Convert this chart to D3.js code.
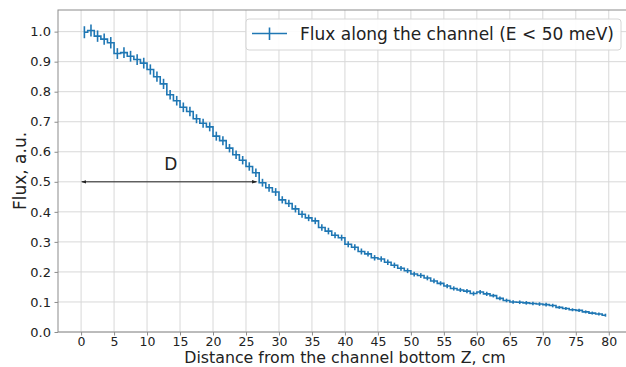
<!DOCTYPE html>
<html>
<head>
<meta charset="utf-8">
<script src="https://cdn.jsdelivr.net/npm/d3@7"></script>
<style>
  html, body { margin: 0; padding: 0; background: #fff; }
  svg { display: block; font-family: "DejaVu Sans", sans-serif; }
</style>
</head>
<body>
<svg id="chart" width="626" height="367"></svg>
<script>
// ---- data ----
const binCenters = d3.range(80).map(i => i + 0.5);
const flux = [
  0.998, 1.004, 0.985, 0.975, 0.963, 0.927, 0.930, 0.918, 0.907, 0.895,
  0.874, 0.850, 0.826, 0.790, 0.770, 0.748, 0.734, 0.710, 0.695, 0.683,
  0.652, 0.637, 0.612, 0.590, 0.572, 0.551, 0.530, 0.497, 0.480, 0.466,
  0.440, 0.428, 0.410, 0.392, 0.380, 0.370, 0.348, 0.336, 0.322, 0.314,
  0.292, 0.282, 0.268, 0.260, 0.247, 0.243, 0.232, 0.222, 0.212, 0.204,
  0.193, 0.188, 0.180, 0.170, 0.162, 0.153, 0.145, 0.140, 0.136, 0.128,
  0.133, 0.127, 0.121, 0.112, 0.105, 0.100, 0.099, 0.097, 0.095, 0.093,
  0.091, 0.088, 0.082, 0.078, 0.074, 0.072, 0.067, 0.063, 0.060, 0.056
];
const fluxErr = [
  0.020, 0.020, 0.019, 0.019, 0.019, 0.018, 0.018, 0.018, 0.018, 0.018,
  0.017, 0.017, 0.017, 0.016, 0.016, 0.016, 0.016, 0.015, 0.015, 0.015,
  0.015, 0.015, 0.014, 0.014, 0.014, 0.014, 0.014, 0.013, 0.013, 0.013,
  0.012, 0.012, 0.012, 0.012, 0.011, 0.011, 0.011, 0.011, 0.010, 0.010,
  0.010, 0.010, 0.010, 0.009, 0.009, 0.009, 0.009, 0.009, 0.008, 0.008,
  0.008, 0.008, 0.008, 0.008, 0.007, 0.007, 0.007, 0.007, 0.007, 0.007,
  0.007, 0.007, 0.006, 0.006, 0.006, 0.006, 0.006, 0.006, 0.006, 0.006,
  0.006, 0.006, 0.005, 0.005, 0.005, 0.005, 0.005, 0.005, 0.005, 0.005
];
const xTicks = [0, 5, 10, 15, 20, 25, 30, 35, 40, 45, 50, 55, 60, 65, 70, 75, 80];
const yTicks = [0.0, 0.1, 0.2, 0.3, 0.4, 0.5, 0.6, 0.7, 0.8, 0.9, 1.0];
const arrowStart = [26.6, 0.5];
const arrowEnd = [0.1, 0.5];
const arrowLabel = { text: "D", x: 13.6, y: 0.538 };
const legendLabel = "Flux along the channel (E < 50 meV)";
const xLabel = "Distance from the channel bottom Z, cm";
const yLabel = "Flux, a.u.";

// ---- layout ----
const plotLeft = 58, plotTop = 10, plotBottom = 332;
const pxPerUnit = 6.596;
const x = d3.scaleLinear().domain([-3.5, 84]).range([plotLeft, plotLeft + 87.5 * pxPerUnit]);
const y = d3.scaleLinear().domain([0, 1.072]).range([plotBottom, plotTop]);
const plotRight = x(84);
const blue = "#1f77b4";
const spineColor = "#8c8c8c";

const svg = d3.select("#chart");
const data = binCenters.map((c, i) => ({ x: c, y: flux[i], e: fluxErr[i] }));

// grid
const grid = svg.append("g");
grid.selectAll("line.gx").data(xTicks).join("line")
  .attr("x1", d => x(d)).attr("x2", d => x(d))
  .attr("y1", plotTop).attr("y2", plotBottom)
  .attr("stroke", "#d8d8d8").attr("stroke-width", 1);
grid.selectAll("line.gy").data(yTicks).join("line")
  .attr("x1", plotLeft).attr("x2", plotRight)
  .attr("y1", d => y(d)).attr("y2", d => y(d))
  .attr("stroke", "#d8d8d8").attr("stroke-width", 1);

// spines
svg.append("rect")
  .attr("x", plotLeft).attr("y", plotTop)
  .attr("width", plotRight - plotLeft).attr("height", plotBottom - plotTop)
  .attr("fill", "none").attr("stroke", spineColor).attr("stroke-width", 1);

// axes
const xAxis = d3.axisBottom(x).tickValues(xTicks).tickSize(3.5).tickPadding(1.5).tickFormat(d3.format("d"));
const gx = svg.append("g").attr("transform", `translate(0,${plotBottom})`).call(xAxis);
gx.select(".domain").remove();
gx.selectAll(".tick line").attr("stroke", spineColor);
gx.selectAll(".tick text").attr("font-size", 12.5).attr("fill", "#222")
  .attr("font-family", "DejaVu Sans, sans-serif");

const yAxis = d3.axisLeft(y).tickValues(yTicks).tickSize(3.5).tickPadding(3.5).tickFormat(d3.format(".1f"));
const gy = svg.append("g").attr("transform", `translate(${plotLeft},0)`).call(yAxis);
gy.select(".domain").remove();
gy.selectAll(".tick line").attr("stroke", spineColor);
gy.selectAll(".tick text").attr("font-size", 13).attr("fill", "#222")
  .attr("font-family", "DejaVu Sans, sans-serif");

// axis labels
svg.append("text").attr("x", 345).attr("y", 363.2).attr("text-anchor", "middle")
  .attr("font-size", 15.8).attr("fill", "#222").text(xLabel);
svg.append("text").attr("transform", "translate(26,171) rotate(-90)").attr("text-anchor", "middle")
  .attr("font-size", 17).attr("fill", "#222").text(yLabel);

// step line
const line = d3.line().x(d => x(d.x)).y(d => y(d.y)).curve(d3.curveStep);
svg.append("path").datum(data).attr("d", line)
  .attr("fill", "none").attr("stroke", blue).attr("stroke-width", 1.6);

// error bars
svg.append("g").selectAll("line").data(data).join("line")
  .attr("x1", d => x(d.x)).attr("x2", d => x(d.x))
  .attr("y1", d => y(d.y - d.e)).attr("y2", d => y(d.y + d.e))
  .attr("stroke", blue).attr("stroke-width", 1.6);

// arrow with D
const defs = svg.append("defs");
defs.append("marker").attr("id", "ah").attr("viewBox", "0 0 10 10")
  .attr("refX", 9).attr("refY", 5).attr("markerWidth", 5).attr("markerHeight", 5)
  .attr("orient", "auto-start-reverse")
  .append("path").attr("d", "M0,1.5 L10,5 L0,8.5 Z").attr("fill", "#222");
svg.append("line")
  .attr("x1", x(arrowStart[0])).attr("y1", y(arrowStart[1]))
  .attr("x2", x(arrowEnd[0])).attr("y2", y(arrowEnd[1]))
  .attr("stroke", "#222").attr("stroke-width", 1)
  .attr("marker-start", "url(#ah)").attr("marker-end", "url(#ah)");
svg.append("text").attr("x", x(arrowLabel.x)).attr("y", y(arrowLabel.y))
  .attr("text-anchor", "middle").attr("font-size", 17).attr("fill", "#222")
  .text(arrowLabel.text);

// legend
const lg = svg.append("g");
lg.append("rect").attr("x", 246).attr("y", 19).attr("width", 375).attr("height", 31)
  .attr("rx", 3).attr("fill", "#fff").attr("fill-opacity", 0.9)
  .attr("stroke", "#d6d6d6").attr("stroke-width", 1);
lg.append("line").attr("x1", 252).attr("x2", 287).attr("y1", 33.5).attr("y2", 33.5)
  .attr("stroke", blue).attr("stroke-width", 1.6);
lg.append("line").attr("x1", 269.5).attr("x2", 269.5).attr("y1", 27.5).attr("y2", 40)
  .attr("stroke", blue).attr("stroke-width", 1.6);
lg.append("text").attr("x", 300).attr("y", 39.5).attr("font-size", 17).attr("fill", "#222")
  .text(legendLabel);
</script>
</body>
</html>
